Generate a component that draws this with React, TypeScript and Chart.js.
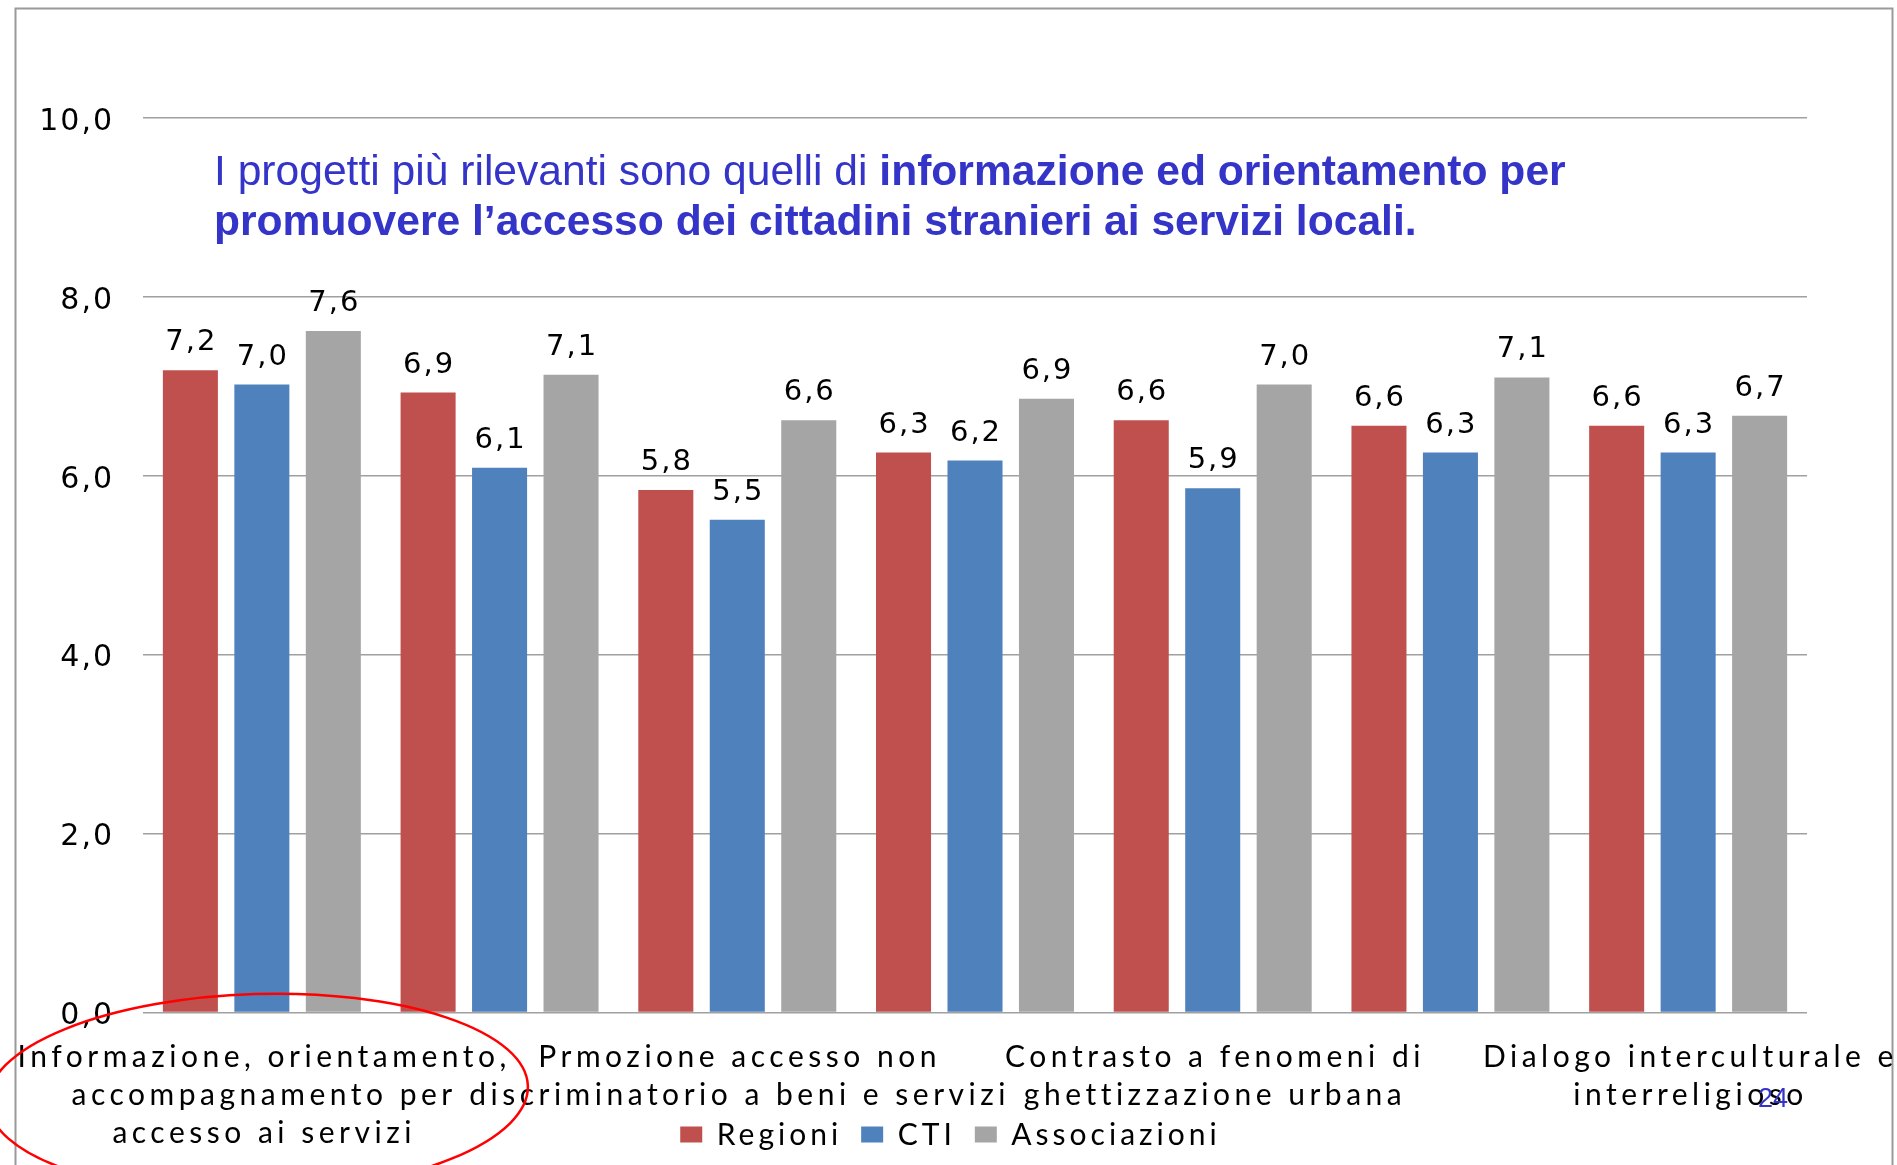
import React, { useEffect, useRef } from 'react';
import { Chart, registerables } from 'chart.js';

Chart.register(...registerables);

// ---- data ----
// Only every other category label is visible in the original chart; the hidden ones are unknown.
const categories: string[][] = [
  ['Informazione, orientamento,', 'accompagnamento per', 'accesso ai servizi'],
  [''],
  ['Prmozione accesso non', 'discriminatorio a beni e servizi'],
  [''],
  ['Contrasto a fenomeni di', 'ghettizzazione urbana'],
  [''],
  ['Dialogo interculturale e', 'interreligioso'],
];
const seriesNames = ['Regioni', 'CTI', 'Associazioni'];
const regioni = [7.18, 6.93, 5.84, 6.26, 6.62, 6.56, 6.56];
const cti = [7.02, 6.09, 5.51, 6.17, 5.86, 6.26, 6.26];
const associazioni = [7.62, 7.13, 6.62, 6.86, 7.02, 7.1, 6.67];
const seriesColors = ['#C0504D', '#4F81BD', '#A5A5A5'];
const yTicks = [0, 2, 4, 6, 8, 10];
const titleLine1Normal = 'I progetti più rilevanti sono quelli di ';
const titleLine1Bold = 'informazione ed orientamento per';
const titleLine2Bold = 'promuovere l’accesso dei cittadini stranieri ai servizi locali.';
const slideNumber = '24';

const fmt = (v: number) => v.toFixed(1).replace('.', ',');

// per-axis label tweaks: letter spacing and small offsets
const labelTweaks: Record<string, { spacing: number; dx: number; dy: number }> = {
  x: { spacing: 4.5, dx: 2.3, dy: 0 },
  y: { spacing: 2, dx: 0, dy: 4 },
};

const spacingPatch = {
  id: 'spacingPatch',
  afterUpdate(chart: any) {
    Object.keys(labelTweaks).forEach((id) => {
      const tw = labelTweaks[id];
      const s: any = chart.scales[id];
      if (s && !s.__patched) {
        const orig = s.drawLabels;
        s.drawLabels = function (area: any) {
          const ctx: any = this.ctx;
          const prevSp = ctx.letterSpacing;
          const origFill = ctx.fillText;
          ctx.letterSpacing = tw.spacing + 'px';
          ctx.fillText = function (t: string, x: number, y: number) {
            origFill.call(ctx, t, x + tw.dx, y + tw.dy);
          };
          try {
            orig.call(this, area);
          } finally {
            ctx.fillText = origFill;
            ctx.letterSpacing = prevSp || '0px';
          }
        };
        s.__patched = true;
      }
    });
  },
};

const slideDecor = {
  id: 'slideDecor',
  beforeDraw(chart: any) {
    const ctx = chart.ctx;
    ctx.save();
    ctx.fillStyle = '#ffffff';
    ctx.fillRect(0, 0, chart.width, chart.height);
    ctx.strokeStyle = '#9a9a9a';
    ctx.lineWidth = 2;
    ctx.strokeRect(15.5, 8.5, chart.width - 20, chart.height + 20);
    ctx.restore();
  },
  afterDatasetsDraw(chart: any) {
    const ctx: any = chart.ctx;
    ctx.save();
    ctx.font = '29px "DejaVu Sans"';
    ctx.fillStyle = '#000000';
    ctx.textAlign = 'center';
    ctx.textBaseline = 'alphabetic';
    ctx.letterSpacing = '2px';
    chart.data.datasets.forEach((ds: any, di: number) => {
      const meta = chart.getDatasetMeta(di);
      meta.data.forEach((bar: any, i: number) => {
        ctx.fillText(fmt(ds.data[i]), bar.x + 1, bar.y - 20);
      });
    });
    ctx.restore();
  },
  afterDraw(chart: any) {
    const ctx: any = chart.ctx;
    const area = chart.chartArea;
    // title text
    ctx.save();
    ctx.fillStyle = '#3434C8';
    ctx.textBaseline = 'alphabetic';
    ctx.textAlign = 'left';
    const tx = 214;
    ctx.font = '42.6px "Liberation Sans"';
    ctx.fillText(titleLine1Normal, tx, area.top + 67);
    const w1 = ctx.measureText(titleLine1Normal).width;
    ctx.font = 'bold 42.6px "Liberation Sans"';
    ctx.fillText(titleLine1Bold, tx + w1, area.top + 67);
    ctx.fillText(titleLine2Bold, tx, area.top + 117);
    ctx.restore();

    // legend
    ctx.save();
    const sp = 4.0;
    ctx.font = '30px Lato';
    ctx.letterSpacing = sp + 'px';
    ctx.textBaseline = 'alphabetic';
    ctx.textAlign = 'left';
    const boxW = 22, boxH = 16, boxGap = 14.5, itemGap = 23;
    const items = chart.data.datasets.map((d: any) => ({ text: d.label, color: d.backgroundColor }));
    const widths = items.map((it: any) => ctx.measureText(it.text).width - sp);
    let total = 0;
    widths.forEach((w: number) => (total += boxW + boxGap + w));
    total += itemGap * (items.length - 1);
    let x = chart.width / 2 - total / 2;
    const cy = area.bottom + 122;
    items.forEach((it: any, i: number) => {
      ctx.fillStyle = it.color;
      ctx.fillRect(x, cy - boxH / 2, boxW, boxH);
      ctx.fillStyle = '#000000';
      ctx.fillText(it.text, x + boxW + boxGap, cy + 10);
      x += boxW + boxGap + widths[i] + itemGap;
    });
    ctx.restore();

    // red annotation ellipse
    ctx.save();
    ctx.strokeStyle = '#ff0000';
    ctx.lineWidth = 2.5;
    ctx.beginPath();
    ctx.ellipse(258, 1094, 270, 100, -0.03, 0, Math.PI * 2);
    ctx.stroke();
    ctx.restore();

    // slide number
    ctx.save();
    ctx.font = '27px "Liberation Sans"';
    ctx.fillStyle = '#3434C8';
    ctx.textAlign = 'left';
    ctx.textBaseline = 'alphabetic';
    ctx.fillText(slideNumber, 1758, 1107);
    ctx.restore();
  },
};

export default function App() {
  const ref = useRef<HTMLCanvasElement | null>(null);
  useEffect(() => {
    if (!ref.current) return;
    const chart = new Chart(ref.current, {
      type: 'bar',
      data: {
        labels: categories,
        datasets: [
          { label: seriesNames[0], data: regioni, backgroundColor: seriesColors[0] },
          { label: seriesNames[1], data: cti, backgroundColor: seriesColors[1] },
          { label: seriesNames[2], data: associazioni, backgroundColor: seriesColors[2] },
        ].map((d) => ({ ...d, categoryPercentage: 0.902, barPercentage: 0.77, borderWidth: 0 })),
      },
      options: {
        animation: false,
        responsive: true,
        maintainAspectRatio: false,
        devicePixelRatio: 1,
        layout: { padding: { top: 118, right: 90, bottom: 0, left: 0 } },
        plugins: {
          legend: { display: false },
          tooltip: { enabled: false },
          title: { display: false },
        },
        scales: {
          x: {
            grid: { display: false, drawTicks: false },
            border: { display: false },
            ticks: {
              autoSkip: false,
              maxRotation: 0,
              minRotation: 0,
              padding: 26,
              color: '#000000',
              font: { family: 'Lato', size: 30, lineHeight: 1.27 },
            },
            afterFit: (s: any) => {
              s.height = 152.5;
              s.paddingLeft = 0;
              s.paddingRight = 0;
            },
          },
          y: {
            min: 0,
            max: 10,
            grid: { color: '#a0a0a0', lineWidth: 1.5, drawTicks: false },
            border: { display: false },
            afterBuildTicks: (s: any) => {
              s.ticks = yTicks.map((v) => ({ value: v }));
            },
            ticks: {
              padding: 29,
              color: '#000000',
              font: { family: 'DejaVu Sans', size: 30 },
              callback: (v: any) => fmt(Number(v)),
            },
            afterFit: (s: any) => {
              s.width = 143;
            },
          },
        },
      },
      plugins: [spacingPatch, slideDecor],
    });
    chart.draw();
    return () => chart.destroy();
  }, []);
  return (
    <div style={{ position: 'fixed', left: 0, top: 0, width: 1897, height: 1165, background: '#ffffff' }}>
      <canvas ref={ref} />
    </div>
  );
}
